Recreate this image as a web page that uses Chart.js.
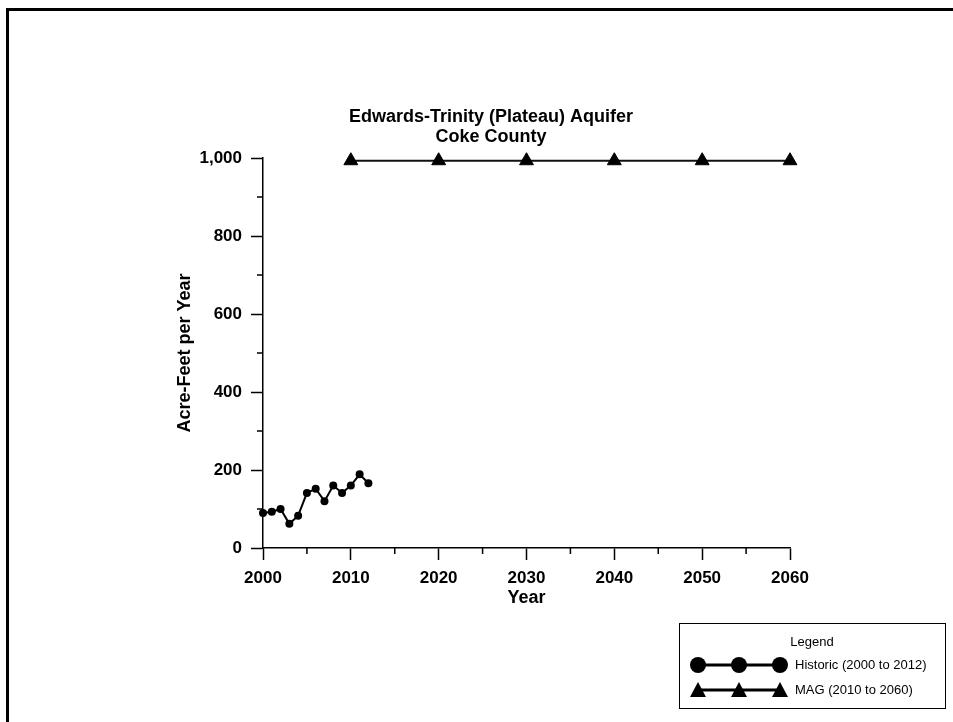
<!DOCTYPE html>
<html>
<head>
<meta charset="utf-8">
<script src="https://cdn.jsdelivr.net/npm/chart.js@4.4.1/dist/chart.umd.min.js"></script>
<style>
  html, body { margin: 0; padding: 0; background: #fff; }
  #wrap { position: relative; width: 953px; height: 722px; overflow: hidden; }
  #frame { position: absolute; left: 6px; top: 8px; right: 0; bottom: 0;
           border-top: 3px solid #000; border-left: 3px solid #000; pointer-events: none; }
  canvas { position: absolute; left: 0; top: 0; }
</style>
</head>
<body>
<div id="wrap">
  <canvas id="c" width="953" height="722"></canvas>
  <div id="frame"></div>
</div>
<script>
// Historic pumping, 2000 to 2012
const historicYears = [2000, 2001, 2002, 2003, 2004, 2005, 2006, 2007, 2008, 2009, 2010, 2011, 2012];
const historicValues = [90, 93, 100, 62, 83, 141, 152, 120, 160, 141, 160, 189, 166];

// Modeled available groundwater, 2010 to 2060
const magYears = [2010, 2020, 2030, 2040, 2050, 2060];
const magValues = [993, 993, 993, 993, 993, 993];

// Axis ticks
const yearTicks = [2000, 2010, 2020, 2030, 2040, 2050, 2060];
const yearMinorTicks = [2005, 2015, 2025, 2035, 2045, 2055];
const valueTicks = [0, 200, 400, 600, 800, 1000];
const valueMinorTicks = [100, 300, 500, 700, 900];

const titleLines = ['Edwards-Trinity (Plateau) Aquifer', 'Coke County'];
const seriesLabels = ['Historic (2000 to 2012)', 'MAG (2010 to 2060)'];

const FONT = '"Liberation Sans", Arial, Helvetica, sans-serif';

// Short tick marks between the labelled ones
const minorTicksPlugin = {
  id: 'minorTicks',
  afterDraw(chart) {
    const { ctx } = chart;
    const xs = chart.scales.x, ys = chart.scales.y;
    ctx.save();
    ctx.strokeStyle = '#000';
    ctx.lineWidth = 1.5;
    ctx.beginPath();
    yearMinorTicks.forEach(v => {
      const px = xs.getPixelForValue(v);
      ctx.moveTo(px, ys.bottom);
      ctx.lineTo(px, ys.bottom + 6);
    });
    valueMinorTicks.forEach(v => {
      const py = ys.getPixelForValue(v);
      ctx.moveTo(xs.left, py);
      ctx.lineTo(xs.left - 6, py);
    });
    ctx.stroke();
    ctx.restore();
  }
};

// Two-line heading
const headingPlugin = {
  id: 'heading',
  afterDraw(chart) {
    const { ctx } = chart;
    ctx.save();
    ctx.fillStyle = '#000';
    ctx.font = 'bold 18px ' + FONT;
    ctx.textAlign = 'center';
    ctx.textBaseline = 'middle';
    ctx.fillText(titleLines[0], 491, 117);
    ctx.fillText(titleLines[1], 491, 137);
    ctx.restore();
  }
};

// Boxed legend with three-marker samples
const boxLegendPlugin = {
  id: 'boxLegend',
  afterDraw(chart) {
    const { ctx } = chart;
    const left = 679, top = 623, right = 945, bottom = 708;
    ctx.save();
    ctx.strokeStyle = '#000';
    ctx.lineWidth = 1;
    ctx.strokeRect(left + 0.5, top + 0.5, right - left, bottom - top);

    ctx.fillStyle = '#000';
    ctx.font = '13px ' + FONT;
    ctx.textAlign = 'center';
    ctx.textBaseline = 'middle';
    ctx.fillText('Legend', 812, 642);

    const sx = [698, 739, 780];
    const rows = [665, 690];
    rows.forEach((ry, i) => {
      ctx.lineWidth = 3;
      ctx.beginPath();
      ctx.moveTo(sx[0], ry);
      ctx.lineTo(sx[2], ry);
      ctx.stroke();
      sx.forEach(x => {
        ctx.beginPath();
        if (i === 0) {
          ctx.arc(x, ry, 8, 0, Math.PI * 2);
        } else {
          ctx.moveTo(x, ry - 8);
          ctx.lineTo(x + 8, ry + 7);
          ctx.lineTo(x - 8, ry + 7);
          ctx.closePath();
        }
        ctx.fill();
      });
      ctx.textAlign = 'left';
      ctx.fillText(seriesLabels[i], 795, ry);
    });
    ctx.restore();
  }
};

const tickFont = { family: FONT, size: 17, weight: 'bold' };
const axisTitleFont = { family: FONT, size: 18, weight: 'bold' };

new Chart(document.getElementById('c'), {
  type: 'line',
  data: {
    datasets: [
      {
        label: seriesLabels[0],
        data: historicYears.map((y, i) => ({ x: y, y: historicValues[i] })),
        borderColor: '#000',
        backgroundColor: '#000',
        borderWidth: 2,
        pointStyle: 'circle',
        pointRadius: 4,
        pointBorderWidth: 0,
        pointBackgroundColor: '#000',
        pointBorderColor: '#000',
        tension: 0,
        clip: false
      },
      {
        label: seriesLabels[1],
        data: magYears.map((y, i) => ({ x: y, y: magValues[i] })),
        borderColor: '#111',
        backgroundColor: '#000',
        borderWidth: 2,
        pointStyle: 'triangle',
        pointRadius: 8,
        pointBackgroundColor: '#000',
        pointBorderColor: '#000',
        pointBorderWidth: 1,
        tension: 0,
        clip: false
      }
    ]
  },
  options: {
    responsive: false,
    animation: false,
    events: [],
    layout: { padding: { left: 165, right: 163, top: 158, bottom: 104 } },
    plugins: {
      legend: { display: false },
      title: { display: false },
      tooltip: { enabled: false }
    },
    scales: {
      x: {
        type: 'linear',
        min: 2000,
        max: 2060,
        afterBuildTicks: s => { s.ticks = yearTicks.map(v => ({ value: v })); },
        afterFit: s => { s.height = 70; s.paddingLeft = 0; s.paddingRight = 0; },
        ticks: { color: '#000', font: tickFont, padding: 8, maxRotation: 0, autoSkip: false,
                 callback: v => String(v) },
        grid: { drawOnChartArea: false, drawTicks: true, tickLength: 12, tickColor: '#000', tickWidth: 1.5 },
        border: { display: true, color: '#000', width: 1.5 },
        title: { display: true, text: 'Year', color: '#000', font: axisTitleFont, padding: { top: 0, bottom: 9 } }
      },
      y: {
        type: 'linear',
        min: 0,
        max: 1000,
        afterBuildTicks: s => { s.ticks = valueTicks.map(v => ({ value: v })); },
        afterFit: s => { s.width = 98; s.paddingTop = 0; s.paddingBottom = 0; },
        ticks: { color: '#000', font: tickFont, padding: 9, autoSkip: false,
                 callback: v => Number(v).toLocaleString('en-US') },
        grid: { drawOnChartArea: false, drawTicks: true, tickLength: 12, tickColor: '#000', tickWidth: 1.5 },
        border: { display: true, color: '#000', width: 1.5 },
        title: { display: true, text: 'Acre-Feet per Year', color: '#000', font: axisTitleFont, padding: { top: 9, bottom: 0 } }
      }
    }
  },
  plugins: [minorTicksPlugin, headingPlugin, boxLegendPlugin]
});
</script>
</body>
</html>
